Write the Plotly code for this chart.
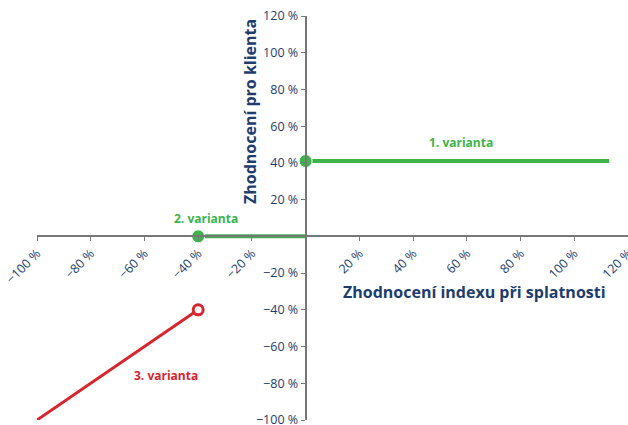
import plotly.graph_objects as go

# Data
v1_x = [0, 113]
v1_y = [41, 41]
v2_x = [-40, 0]
v2_y = [0, 0]
v3_x = [-40, -100]
v3_y = [-40, -100]

x_tickvals = [-100, -80, -60, -40, -20, 20, 40, 60, 80, 100, 120]
y_tickvals = [-100, -80, -60, -40, -20, 20, 40, 60, 80, 100, 120]

def fmt(v):
    return ("\u2212" if v < 0 else "") + f"{abs(v)} %"

x_ticktext = [fmt(v) for v in x_tickvals]
y_ticktext = [fmt(v) for v in y_tickvals]

GREEN = "#3cb44b"
RED = "#d7262e"
BLUE = "#1d3d6e"
AXIS = "#777777"
FONT = "Open Sans"

fig = go.Figure()
fig.add_trace(go.Scatter(x=v1_x, y=v1_y, mode="lines+markers",
                         line=dict(color=GREEN, width=4),
                         marker=dict(size=[13, 0], color=GREEN, opacity=1),
                         cliponaxis=False, showlegend=False, hoverinfo="skip"))
fig.add_trace(go.Scatter(x=v2_x, y=v2_y, mode="lines+markers",
                         line=dict(color=GREEN, width=4),
                         marker=dict(size=[13, 0], color=GREEN, opacity=1),
                         cliponaxis=False, showlegend=False, hoverinfo="skip"))
fig.add_trace(go.Scatter(x=v3_x, y=v3_y, mode="lines+markers",
                         line=dict(color=RED, width=3),
                         marker=dict(size=[10, 0], color="white", opacity=1,
                                     line=dict(color=RED, width=3)),
                         cliponaxis=False, showlegend=False, hoverinfo="skip"))

xr = [-100, 120]
yr = [-100, 120]
fig.update_layout(
    width=628, height=425,
    margin=dict(l=37, r=0, t=16, b=5, autoexpand=False),
    paper_bgcolor="white", plot_bgcolor="white",
    font=dict(family=FONT, color=BLUE),
    xaxis=dict(range=xr, anchor="free", position=(0 - yr[0]) / (yr[1] - yr[0]),
               automargin=False, ticklabeloverflow="allow",
               showgrid=False, zeroline=False, showline=True, linecolor=AXIS, linewidth=2,
               tickvals=x_tickvals, ticktext=x_ticktext, tickangle=-45,
               ticks="outside", ticklen=4, tickcolor=AXIS, tickwidth=1,
               tickfont=dict(size=12.5, color=BLUE, family=FONT)),
    yaxis=dict(range=yr, anchor="free", position=(0 - xr[0]) / (xr[1] - xr[0]),
               automargin=False, ticklabeloverflow="allow",
               showgrid=False, zeroline=False, showline=True, linecolor=AXIS, linewidth=2,
               tickvals=y_tickvals, ticktext=y_ticktext,
               ticks="outside", ticklen=4, tickcolor=AXIS, tickwidth=1,
               tickfont=dict(size=12.5, color=BLUE, family=FONT)),
    annotations=[
        dict(text="<b>Zhodnocení pro klienta</b>", xref="paper", yref="paper",
             x=(250 - 37) / 591, y=(420 - 112) / 404, textangle=-90, showarrow=False,
             font=dict(size=16, color=BLUE, family=FONT), xanchor="center", yanchor="middle"),
        dict(text="<b>Zhodnocení indexu při splatnosti</b>", xref="paper", yref="paper",
             x=(474 - 37) / 591, y=(420 - 292) / 404, showarrow=False,
             font=dict(size=16, color=BLUE, family=FONT), xanchor="center", yanchor="middle"),
        dict(text="<b>1. varianta</b>", x=58, y=51, showarrow=False,
             font=dict(size=12, color=GREEN, family=FONT)),
        dict(text="<b>2. varianta</b>", x=-37, y=10, showarrow=False,
             font=dict(size=12, color=GREEN, family=FONT)),
        dict(text="<b>3. varianta</b>", x=-52, y=-76, showarrow=False,
             font=dict(size=12, color=RED, family=FONT)),
    ],
)

fig.write_html("out.html", config={"displayModeBar": False},
               post_script="document.body.style.margin='0';document.body.style.overflow='hidden';")
